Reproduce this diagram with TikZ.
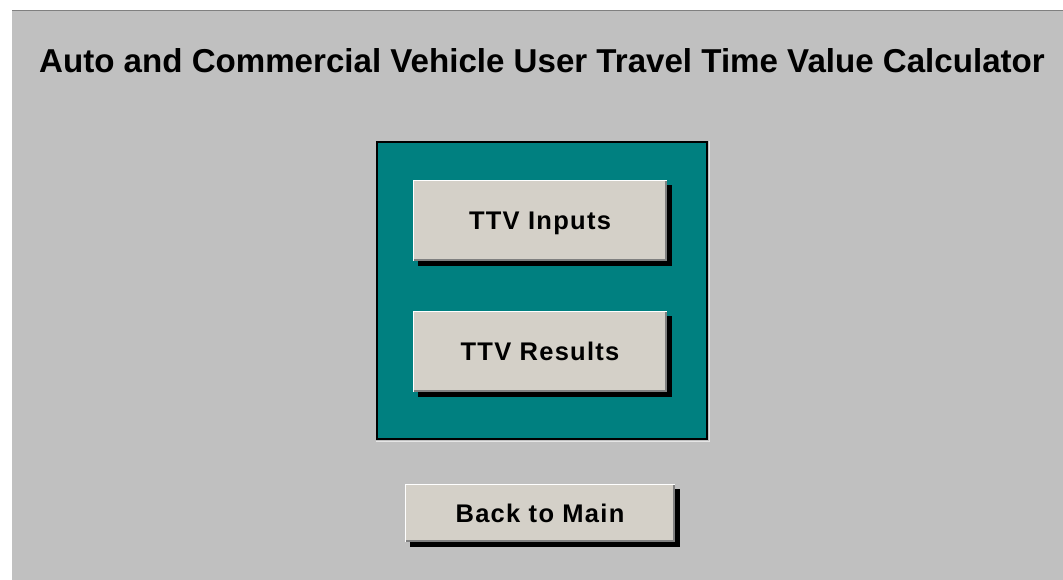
\documentclass[tikz,border=0pt]{standalone}
\usepackage{fontspec}
\setmainfont{Liberation Sans}
\newfontfamily\btnfont[LetterSpace=5]{Liberation Sans}
\usetikzlibrary{shadows}
\definecolor{formgray}{HTML}{C0C0C0}
\definecolor{panelteal}{HTML}{008080}
\definecolor{btnface}{HTML}{D4D0C8}
\definecolor{btnedge}{HTML}{808080}
\tikzset{
  btn/.style={rectangle, fill=btnface, inner sep=0pt,
    minimum width=254pt, minimum height=81pt,
    text height=18pt, text depth=0pt,
    font=\btnfont\bfseries\fontsize{25.5pt}{30pt}\selectfont,
    drop shadow={shadow xshift=5pt, shadow yshift=-5pt, fill=black, opacity=1}},
  hilite/.style={draw=white, line width=1.2pt},
  lowlite/.style={draw=btnedge, line width=2pt},
}
\newcommand{\bevel}[1]{%
  \draw[hilite] ([xshift=0.6pt,yshift=0.6pt]#1.south west) -- ([xshift=0.6pt,yshift=-0.6pt]#1.north west) -- ([xshift=-0.6pt,yshift=-0.6pt]#1.north east);
  \draw[lowlite] ([xshift=1pt,yshift=1pt]#1.south west) -- ([xshift=-1pt,yshift=1pt]#1.south east) -- ([xshift=-1pt,yshift=-1pt]#1.north east);
}
\begin{document}
\begin{tikzpicture}[x=1pt,y=-1pt]
  \useasboundingbox (0,0) rectangle (1063,580);
  \fill[white] (0,0) rectangle (1063,580);
  % form area
  \fill[formgray] (12,10) rectangle (1063,580);
  \draw[btnedge, line width=1.5pt] (12,10.5) -- (1063,10.5);
  % title
  \node[font=\bfseries\fontsize{33.1pt}{38pt}\selectfont, anchor=base] (title) at (542,73) {Auto and Commercial Vehicle User Travel Time Value Calculator};
  % teal panel
  \draw[white!60!formgray, line width=1pt] (376,441.5) -- (709.5,441.5) -- (709.5,141);
  \node[rectangle, draw=black, line width=2pt, fill=panelteal, minimum width=330pt, minimum height=297pt, inner sep=0pt] (panel) at (542,290.5) {};
  % buttons
  \node[btn] (inputs) at (540,220.5) {TTV Inputs};
  \bevel{inputs}
  \node[btn] (results) at (540,351.5) {TTV Results};
  \bevel{results}
  \node[btn, minimum width=270pt, minimum height=58pt] (back) at (540,513) {Back to Main};
  \bevel{back}
\end{tikzpicture}
\end{document}
